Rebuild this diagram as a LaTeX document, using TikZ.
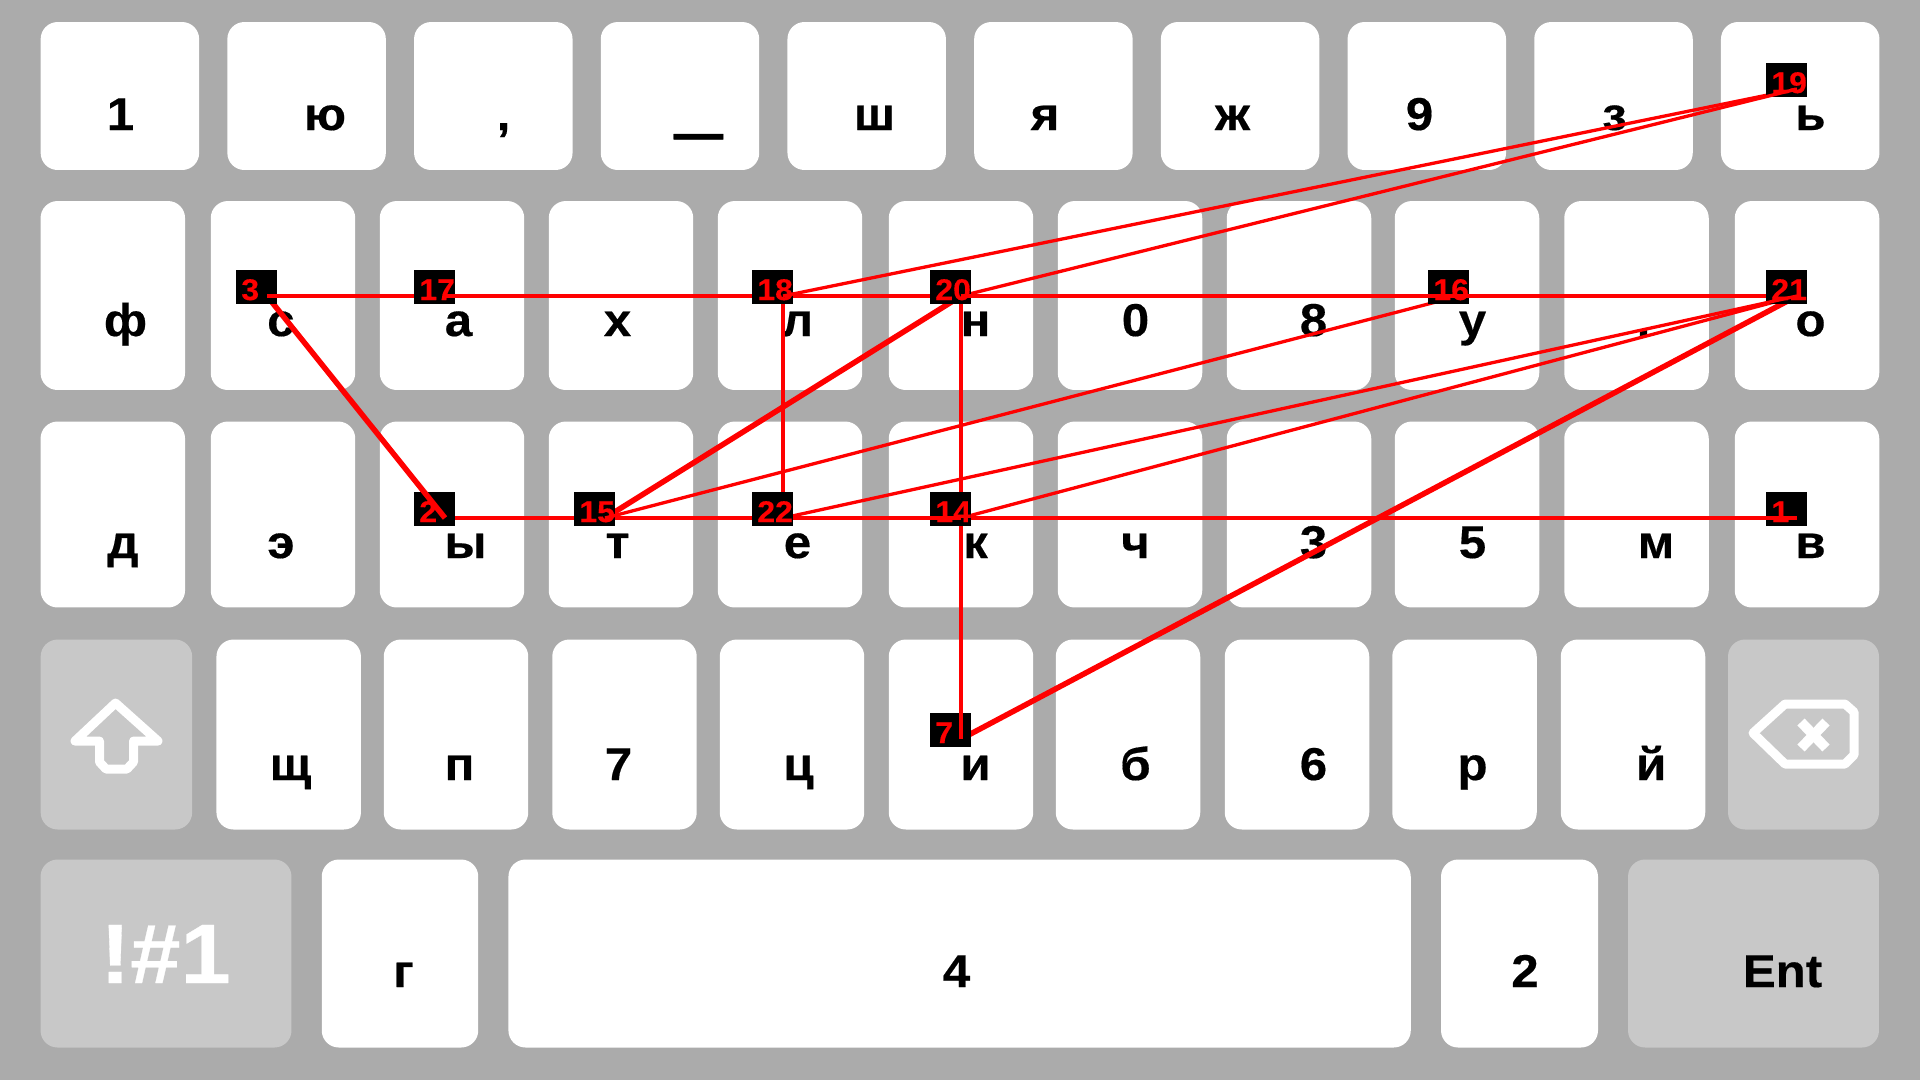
\documentclass[tikz,border=0pt]{standalone}
\usepackage{fontspec}
\setmainfont{Liberation Sans}[BoldFeatures={FakeStretch=1.07,FakeBold=0.35}]

\definecolor{panel}{HTML}{ABABAB}
\definecolor{funckey}{HTML}{C8C8C8}

\tikzset{key/.style={fill=white,rounded corners=0.34cm,inner sep=0,outer sep=0},
func/.style={key,fill=funckey},
row one/.style={key,minimum width=3.17cm,minimum height=2.96cm},
row two/.style={key,minimum width=2.89cm,minimum height=3.78cm},
row three/.style={key,minimum width=2.89cm,minimum height=3.72cm},
row four/.style={key,minimum width=2.89cm,minimum height=3.80cm},
row five/.style={key,minimum height=3.76cm},
glyph/.style={font=\fontsize{26.2}{30}\selectfont\bfseries,anchor=base,inner sep=0,xshift=0.01cm},
stamp/.style={fill=black,inner sep=0,minimum width=0.82cm,minimum height=0.68cm,shift={(-10.5,-9)}},
num/.style={font=\fontsize{17}{20}\selectfont\bfseries,text=red,anchor=base west,inner sep=0,shift={(-26,4)}},
seg/.style={draw=red,line width=0.09cm},
thin seg/.style={draw=red,line width=0.066cm},
heavy seg/.style={draw=red,line width=0.11cm},
icon/.style={draw=white,line width=0.18cm,line join=round}}

\begin{document}
\begin{tikzpicture}[x=0.02cm,y=-0.02cm]
\useasboundingbox (0,0) rectangle (1920,1080);
\fill [panel] (0,0) rectangle (1920,1080);

%% keys, first row
\node [row one] (k1) at (119.9,96) {};
\node [row one] (k2) at (306.6,96) {};
\node [row one] (k3) at (493.3,96) {};
\node [row one] (k4) at (680.0,96) {};
\node [row one] (k5) at (866.7,96) {};
\node [row one] (k6) at (1053.4,96) {};
\node [row one] (k7) at (1240.1,96) {};
\node [row one] (k8) at (1426.8,96) {};
\node [row one] (k9) at (1613.5,96) {};
\node [row one] (k10) at (1800.2,96) {};

%% keys, second row
\node [row two] (k11) at (112.8,295.5) {};
\node [row two] (k12) at (283,295.5) {};
\node [row two] (k13) at (452,295.5) {};
\node [row two] (k14) at (621,295.5) {};
\node [row two] (k15) at (790,295.5) {};
\node [row two] (k16) at (961,295.5) {};
\node [row two] (k17) at (1130,295.5) {};
\node [row two] (k18) at (1299,295.5) {};
\node [row two] (k19) at (1467,295.5) {};
\node [row two] (k20) at (1636.5,295.5) {};
\node [row two] (k21) at (1807,295.5) {};

%% keys, third row
\node [row three] (k22) at (112.8,514.5) {};
\node [row three] (k23) at (283,514.5) {};
\node [row three] (k24) at (452,514.5) {};
\node [row three] (k25) at (621,514.5) {};
\node [row three] (k26) at (790,514.5) {};
\node [row three] (k27) at (961,514.5) {};
\node [row three] (k28) at (1130,514.5) {};
\node [row three] (k29) at (1299,514.5) {};
\node [row three] (k30) at (1467,514.5) {};
\node [row three] (k31) at (1636.5,514.5) {};
\node [row three] (k32) at (1807,514.5) {};

%% keys, fourth row
\node [row four,func,minimum width=3.03cm] (k33) at (116.4,734.5) {};
\node [row four] (k34) at (288.7,734.5) {};
\node [row four] (k35) at (456,734.5) {};
\node [row four] (k36) at (624.5,734.5) {};
\node [row four] (k37) at (792,734.5) {};
\node [row four] (k38) at (961,734.5) {};
\node [row four] (k39) at (1128,734.5) {};
\node [row four] (k40) at (1297,734.5) {};
\node [row four] (k41) at (1464.5,734.5) {};
\node [row four] (k42) at (1633,734.5) {};
\node [row four,func,minimum width=3.02cm] (k43) at (1803.5,734.5) {};

%% keys, fifth row
\node [row five,func,minimum width=5.02cm] (k44) at (166,953.5) {};
\node [row five,minimum width=3.13cm] (k45) at (400,953.5) {};
\node [row five,minimum width=18.05cm] (k46) at (959.6,953.5) {};
\node [row five,minimum width=3.14cm] (k47) at (1519.5,953.5) {};
\node [row five,func,minimum width=5.02cm] (k48) at (1753.5,953.5) {};

%% key labels
\node [glyph] (g1) at (120,130) {1};
\node [glyph] (g2) at (324.5,130) {ю};
\node [glyph] (g3) at (503,130) {,};
\node [glyph,xscale=1.75,yscale=3,transform shape] (g4) at (698,122.5) {\_};
\node [glyph] (g5) at (874,130) {ш};
\node [glyph] (g6) at (1044.5,130) {я};
\node [glyph] (g7) at (1232,130) {ж};
\node [glyph] (g8) at (1419,130) {9};
\node [glyph] (g9) at (1614,130) {з};
\node [glyph] (g10) at (1810,130) {ь};
\node [glyph] (g11) at (125,336) {ф};
\node [glyph] (g12) at (280.4,336) {с};
\node [glyph] (g13) at (458,336) {а};
\node [glyph] (g14) at (617,336) {х};
\node [glyph] (g15) at (797,336) {л};
\node [glyph] (g16) at (975,336) {н};
\node [glyph] (g17) at (1135,336) {0};
\node [glyph] (g18) at (1313,336) {8};
\node [glyph] (g19) at (1472,336) {у};
\node [glyph] (g20) at (1643,336) {.};
\node [glyph] (g21) at (1810,336) {о};
\node [glyph] (g22) at (122.5,558) {д};
\node [glyph] (g23) at (280.4,558) {э};
\node [glyph] (g24) at (465,558) {ы};
\node [glyph] (g25) at (617,558) {т};
\node [glyph] (g26) at (797,558) {е};
\node [glyph] (g27) at (975,558) {к};
\node [glyph] (g28) at (1135,558) {ч};
\node [glyph] (g29) at (1313,558) {3};
\node [glyph] (g30) at (1472,558) {5};
\node [glyph] (g31) at (1655.5,558) {м};
\node [glyph] (g32) at (1810,558) {в};
\node [glyph] (g34) at (290,780) {щ};
\node [glyph] (g35) at (459,780) {п};
\node [glyph] (g36) at (618,780) {7};
\node [glyph] (g37) at (798,780) {ц};
\node [glyph] (g38) at (975,780) {и};
\node [glyph] (g39) at (1135,780) {б};
\node [glyph] (g40) at (1313,780) {6};
\node [glyph] (g41) at (1472,780) {р};
\node [glyph] (g42) at (1650.7,780) {й};
\node [glyph,text=white,font=\fontsize{48}{50}\selectfont\bfseries] (g44) at (165,983) {!\#1};
\node [glyph] (g45) at (403,987) {г};
\node [glyph] (g46) at (956,987) {4};
\node [glyph] (g47) at (1524.5,987) {2};
\node [glyph] (g48) at (1782,987) {Ent};

%% shift and backspace icons
\draw [icon] (115.5,703) -- (75,741) -- (99.5,741) -- (99.5,762) -- (106,769) -- (127,769) -- (133.5,762) -- (133.5,741) -- (158,741) -- cycle;
\draw [icon] (1753,733) -- (1785,704) -- (1845,704) -- (1854,712) -- (1854,755) -- (1845,764) -- (1785,764) -- cycle;
\draw [icon,line width=0.2cm,line join=miter] (1801,722) -- (1826,748);
\draw [icon,line width=0.2cm,line join=miter] (1826,722) -- (1801,748);

%% Coordinates of points.
\coordinate (p1) at (1797,518);
\coordinate (p2) at (445,518);
\coordinate (p3) at (267,296);
\coordinate (p7) at (961,739);
\coordinate (p14) at (961,518);
\coordinate (p15) at (605,518);
\coordinate (p16) at (1459,296);
\coordinate (p17) at (445,296);
\coordinate (p18) at (783,296);
\coordinate (p19) at (1797,89);
\coordinate (p20) at (961,296);
\coordinate (p21) at (1797,296);
\coordinate (p22) at (783,518);

%% path and stamps, later ones on top
\node [stamp] (s1) at (p1) {};
\node [num] (n1) at (p1) {1};
\draw [seg] (p1) -- (p2);
\node [stamp] (s2) at (p2) {};
\node [num] (n2) at (p2) {2};
\draw [heavy seg] (p2) -- (p3);
\node [stamp] (s3) at (p3) {};
\node [num] (n3) at (p3) {3};
\draw [seg] (p3) -- (p21);
\draw [heavy seg] (p21) -- (p7);
\node [stamp] (s7) at (p7) {};
\node [num] (n7) at (p7) {7};
\draw [seg] (p7) -- (p20);
\draw [heavy seg] (p20) -- (p15);
\draw [seg] (p22) -- (p18);
\draw [thin seg] (p14) -- (p21);
\node [stamp] (s14) at (p14) {};
\node [num] (n14) at (p14) {14};
\draw [seg] (p14) -- (p15);
\node [stamp] (s15) at (p15) {};
\node [num] (n15) at (p15) {15};
\draw [thin seg] (p15) -- (p16);
\node [stamp] (s16) at (p16) {};
\node [num] (n16) at (p16) {16};
\draw [seg] (p16) -- (p17);
\node [stamp] (s17) at (p17) {};
\node [num] (n17) at (p17) {17};
\draw [seg] (p17) -- (p18);
\node [stamp] (s18) at (p18) {};
\node [num] (n18) at (p18) {18};
\draw [thin seg] (p18) -- (p19);
\node [stamp] (s19) at (p19) {};
\node [num] (n19) at (p19) {19};
\draw [thin seg] (p19) -- (p20);
\node [stamp] (s20) at (p20) {};
\node [num] (n20) at (p20) {20};
\draw [seg] (p20) -- (p21);
\node [stamp] (s21) at (p21) {};
\node [num] (n21) at (p21) {21};
\draw [thin seg] (p21) -- (p22);
\node [stamp] (s22) at (p22) {};
\node [num] (n22) at (p22) {22};

\end{tikzpicture}
\end{document}
